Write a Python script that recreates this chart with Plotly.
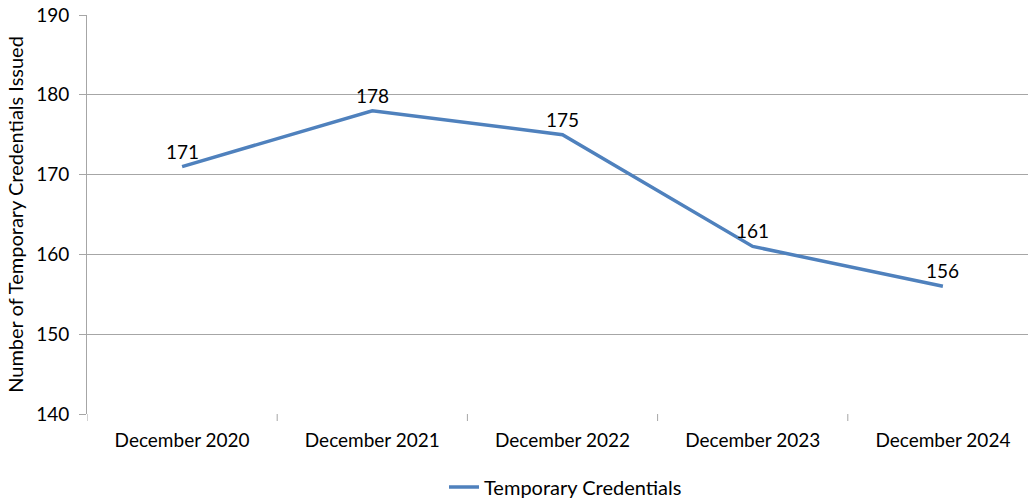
import plotly.graph_objects as go

categories = ["December 2020", "December 2021", "December 2022", "December 2023", "December 2024"]
credentials = [171, 178, 175, 161, 156]
series_name = "Temporary Credentials"
y_ticks = [140, 150, 160, 170, 180, 190]

FONT = "Lato, 'Open Sans', sans-serif"
GRID = "#a6a6a6"
x_pos = list(range(len(categories)))

fig = go.Figure()
fig.add_trace(go.Scatter(
    x=x_pos,
    y=credentials,
    mode="lines",
    name=series_name,
    line=dict(color="#4f81bd", width=3.5),
    cliponaxis=False,
))

# value labels sitting a little above each point
for xp, v in zip(x_pos, credentials):
    fig.add_annotation(
        x=xp, y=v, xref="x", yref="y",
        text=str(v), showarrow=False,
        yanchor="bottom", xanchor="center",
        yshift=2,
        font=dict(family=FONT, size=19, color="#000000"),
    )

fig.update_layout(
    width=1028,
    height=504,
    margin=dict(l=87, r=0, t=15, b=90, autoexpand=False),
    paper_bgcolor="white",
    plot_bgcolor="white",
    font=dict(family=FONT, size=19, color="#000000"),
    showlegend=True,
    legend=dict(
        orientation="h",
        x=(444 - 87) / 941, xanchor="left",
        y=(414 - 487) / 399, yanchor="middle",
        font=dict(family=FONT, size=20),
        itemwidth=30,
    ),
    xaxis=dict(
        range=[-0.5, -0.5 + (1028 - 87) / 190.2],
        tickmode="array",
        tickvals=x_pos,
        ticktext=categories,
        showgrid=False,
        zeroline=False,
        showline=False,
        ticks="",
        ticklabelstandoff=13,
        automargin=False,
        tickfont=dict(family=FONT, size=19),
    ),
    yaxis=dict(
        range=[140, 190],
        tickvals=y_ticks,
        showgrid=True,
        gridcolor=GRID,
        gridwidth=1,
        zeroline=False,
        showline=True,
        linecolor=GRID,
        linewidth=1,
        ticks="outside",
        ticklen=7,
        tickcolor=GRID,
        ticklabelstandoff=6,
        automargin=False,
        tickfont=dict(family=FONT, size=19),
        title=dict(text="Number of Temporary Credentials Issued",
                   font=dict(family=FONT, size=20), standoff=7),
    ),
)

# category boundary tick marks below the horizontal axis
for b in [i - 0.5 for i in range(len(categories) + 1)]:
    fig.add_shape(type="line", xref="x", yref="paper",
                  x0=b, x1=b, y0=0, y1=-7 / 399,
                  line=dict(color=GRID, width=1))

fig.write_html("out.html")
